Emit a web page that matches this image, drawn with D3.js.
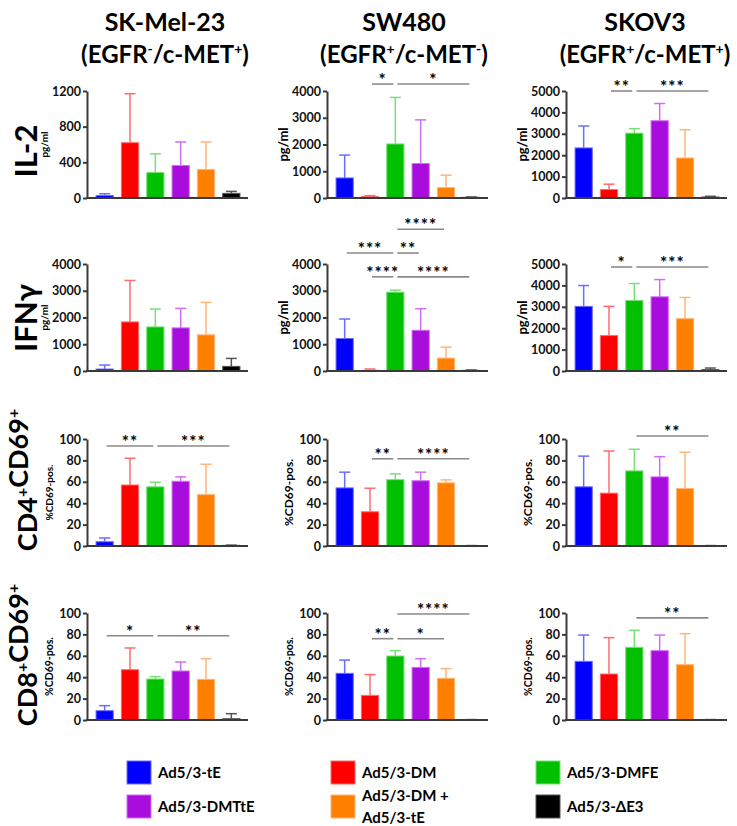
<!DOCTYPE html>
<html>
<head>
<meta charset="utf-8">
<script src="https://cdn.jsdelivr.net/npm/d3@7"></script>
<style>
  body { margin: 0; background: #fff; }
  text { font-family: Lato, "Open Sans", sans-serif; }
</style>
</head>
<body>
<svg id="chart" width="737" height="826"></svg>
<script>
const groups = ["Ad5/3-tE", "Ad5/3-DM", "Ad5/3-DMFE", "Ad5/3-DMTtE", "Ad5/3-DM +|Ad5/3-tE", "Ad5/3-ΔE3"];
const barColors = ["#0000ff", "#ff0000", "#00c000", "#a80ddd", "#ff8000", "#000000"];
const errColors = ["#6b6bff", "#ff6b6b", "#77e077", "#cf6ff0", "#ffb478", "#555555"];

const cellLines = ["SK-Mel-23", "SW480", "SKOV3"];
const cellReceptors = [["-", "+"], ["+", "-"], ["+", "+"]];
const markers = ["IL-2", "IFNγ", "CD4|CD69", "CD8|CD69"];
const yTitles = ["pg/ml", "pg/ml", "%CD69-pos.", "%CD69-pos."];

// y axis maxima and tick labels, row by row, column by column
const yMax = [[1200, 4000, 5000], [4000, 4000, 5000], [100, 100, 100], [100, 100, 100]];
const yTicks = [
  [[0, 400, 800, 1200], [0, 1000, 2000, 3000, 4000], [0, 1000, 2000, 3000, 4000, 5000]],
  [[0, 1000, 2000, 3000, 4000], [0, 1000, 2000, 3000, 4000], [0, 1000, 2000, 3000, 4000, 5000]],
  [[0, 20, 40, 60, 80, 100], [0, 20, 40, 60, 80, 100], [0, 20, 40, 60, 80, 100]],
  [[0, 20, 40, 60, 80, 100], [0, 20, 40, 60, 80, 100], [0, 20, 40, 60, 80, 100]]
];

// means and upper error (mean + SD)
const il2Mean = [[28, 620, 285, 365, 320, 52], [750, 50, 2020, 1290, 390, 25], [2340, 395, 3030, 3610, 1870, 47]];
const il2Err = [[48, 1170, 495, 628, 628, 74], [1605, 88, 3760, 2920, 853, 38], [3365, 645, 3240, 4415, 3190, 80]];
const ifnMean = [[74, 1835, 1648, 1612, 1352, 173], [1214, 25, 2947, 1523, 483, 25], [3020, 1656, 3297, 3467, 2446, 62]];
const ifnErr = [[223, 3385, 2316, 2341, 2565, 470], [1944, 74, 3022, 2328, 892, 37], [3994, 3020, 4087, 4272, 3437, 139]];
const cd4Mean = [[4, 57, 55.3, 60.5, 48, 0.6], [54.3, 32, 62, 61, 59, 0.3], [55.3, 49.4, 70.2, 64.6, 53.7, 0.3]];
const cd4Err = [[7.5, 82, 59.6, 64.6, 76.4, 0.8], [69, 54, 67.4, 69, 61.8, 0.4], [84, 88.8, 90.4, 83.5, 87.6, 0.4]];
const cd8Mean = [[8.7, 47, 38.3, 45.8, 38, 1.2], [43.6, 23, 59.8, 49.2, 39, 0.3], [54.8, 43, 67.9, 64.8, 51.7, 0.3]];
const cd8Err = [[13.4, 67.3, 40.5, 54.2, 57.3, 5.9], [56, 42.4, 64.8, 57.3, 48, 0.4], [79.4, 77, 83.8, 79.4, 80.7, 0.4]];

// significance brackets: [from bar, to bar, label, y value]
const il2Sig = [[], [[1, 2, "*", 4260], [2, 5, "*", 4260]], [[1, 2, "**", 5000], [2, 5, "***", 5000]]];
const ifnSig = [[], [[2, 4, "****", 5300], [0, 2, "***", 4410], [2, 3, "**", 4410], [1, 2, "****", 3520], [2, 5, "****", 3520]],
  [[1, 2, "*", 4860], [2, 5, "***", 4860]]];
const cd4Sig = [[[0, 2, "**", 93.5], [2, 5, "***", 93.5]], [[1, 2, "**", 81.5], [2, 5, "****", 81.5]], [[2, 5, "**", 102.8]]];
const cd8Sig = [[[0, 2, "*", 78.7], [2, 5, "**", 78.7]], [[2, 5, "****", 99], [1, 2, "**", 76], [2, 4, "*", 76]], [[2, 5, "**", 95.4]]];

const means = [il2Mean, ifnMean, cd4Mean, cd8Mean];
const errs = [il2Err, ifnErr, cd4Err, cd8Err];
const sigs = [il2Sig, ifnSig, cd4Sig, cd8Sig];

const axisX = [87, 327, 566];
const rowTop = [91, 264, 439, 613];
const plotH = 107, plotW = 161;
const colCenter = [165, 404, 645];
const rowLabelY = [151, 318, 480, 655];
const rowLabelSize = [31, 31, 27, 27];
const titleSize = [[10, 13, 13], [10, 13, 13], [10, 12, 12], [10.5, 10.5, 10.5]];

const svg = d3.select("#chart");

// column headers
cellLines.forEach((name, c) => {
  svg.append("text").attr("x", colCenter[c]).attr("y", 31)
    .attr("text-anchor", "middle").attr("font-size", 25).attr("font-weight", 700)
    .text(name);
  const t = svg.append("text").attr("x", colCenter[c]).attr("y", 63)
    .attr("text-anchor", "middle").attr("font-size", 24).attr("font-weight", 700);
  t.append("tspan").text("(EGFR");
  t.append("tspan").attr("font-size", 14).attr("dy", -9).text(cellReceptors[c][0]);
  t.append("tspan").attr("dy", 9).text("/c-MET");
  t.append("tspan").attr("font-size", 14).attr("dy", -9).text(cellReceptors[c][1]);
  t.append("tspan").attr("dy", 9).text(")");
});

// row labels
markers.forEach((m, r) => {
  const t = svg.append("text")
    .attr("transform", `translate(37, ${rowLabelY[r]}) rotate(-90)`)
    .attr("text-anchor", "middle").attr("font-size", rowLabelSize[r]).attr("font-weight", 700);
  const parts = m.split("|");
  if (parts.length === 1) {
    t.text(m);
  } else {
    parts.forEach((p) => {
      t.append("tspan").text(p);
      t.append("tspan").attr("font-size", 16).attr("dy", -9).text("+");
      t.append("tspan").attr("dy", 9).text("");
    });
  }
});

for (let r = 0; r < 4; r++) {
  for (let c = 0; c < 3; c++) {
    const x0 = axisX[c], y0 = rowTop[r];
    const x = d3.scaleBand().domain(d3.range(6))
      .range([x0 + 5, x0 + 157]).paddingInner(0.32).paddingOuter(0.16);
    const y = d3.scaleLinear().domain([0, yMax[r][c]]).range([y0 + plotH, y0]);
    const g = svg.append("g");
    const mean = means[r][c], err = errs[r][c];

    // error bars (drawn first, behind the bar)
    const eb = g.selectAll(".err").data(mean).join("g");
    eb.append("line")
      .attr("x1", (d, i) => x(i) + x.bandwidth() / 2).attr("x2", (d, i) => x(i) + x.bandwidth() / 2)
      .attr("y1", (d) => y(d)).attr("y2", (d, i) => y(err[i]))
      .attr("stroke", (d, i) => errColors[i]).attr("stroke-width", 1.5);
    eb.append("line")
      .attr("x1", (d, i) => x(i) + x.bandwidth() / 2 - 5.5).attr("x2", (d, i) => x(i) + x.bandwidth() / 2 + 5.5)
      .attr("y1", (d, i) => y(err[i])).attr("y2", (d, i) => y(err[i]))
      .attr("stroke", (d, i) => errColors[i]).attr("stroke-width", 1.5);

    g.selectAll(".bar").data(mean).join("rect")
      .attr("x", (d, i) => x(i)).attr("width", x.bandwidth())
      .attr("y", (d) => y(d)).attr("height", (d) => y(0) - y(d))
      .attr("fill", (d, i) => barColors[i])
      .attr("stroke", (d, i) => errColors[i]).attr("stroke-width", 1);

    // axes
    const ax = g.append("g").attr("transform", `translate(${x0},0)`)
      .call(d3.axisLeft(y).tickValues(yTicks[r][c]).tickFormat(d3.format("d"))
        .tickSize(4).tickPadding(2).tickSizeOuter(0));
    ax.select(".domain").attr("stroke", "#3a3a3a").attr("stroke-width", 2);
    ax.selectAll(".tick line").attr("stroke", "#3a3a3a").attr("stroke-width", 2);
    ax.selectAll(".tick text").attr("font-size", 12.5).attr("font-weight", 700)
      .attr("fill", "#111").attr("font-family", "Lato, sans-serif");
    g.append("line").attr("x1", x0 - 1).attr("x2", x0 + plotW)
      .attr("y1", y(0)).attr("y2", y(0))
      .attr("stroke", "#3a3a3a").attr("stroke-width", 2);

    g.append("text")
      .attr("transform", `translate(${x0 - (r < 2 ? 39 : 34)}, ${y0 + plotH / 2}) rotate(-90)`)
      .attr("text-anchor", "middle").attr("font-size", titleSize[r][c]).attr("font-weight", 700)
      .text(yTitles[r]);

    // significance
    sigs[r][c].forEach(([a, b, label, v]) => {
      const xa = x(a) + x.bandwidth() / 2 + 2, xb = x(b) + x.bandwidth() / 2 - 2;
      g.append("line").attr("x1", xa).attr("x2", xb).attr("y1", y(v)).attr("y2", y(v))
        .attr("stroke", "#8a8a8a").attr("stroke-width", 1.6);
      g.append("text").attr("x", (xa + xb) / 2).attr("y", y(v) + 2)
        .attr("text-anchor", "middle").attr("font-size", 17).attr("font-weight", 700)
        .attr("letter-spacing", 1).text(label);
    });
  }
}

// legend
const legX = [127, 331, 536], legY = [761, 795];
groups.forEach((name, i) => {
  const lx = legX[i % 3], ly = legY[Math.floor(i / 3)];
  svg.append("rect").attr("x", lx).attr("y", ly).attr("width", 24).attr("height", 23)
    .attr("fill", barColors[i]).attr("stroke", errColors[i]).attr("stroke-width", 1);
  const lines = name.split("|");
  lines.forEach((l, k) => {
    svg.append("text").attr("x", lx + 31)
      .attr("y", ly + 17 + (k - (lines.length - 1) / 2) * 22)
      .attr("font-size", 15).attr("font-weight", 700).text(l);
  });
});
</script>
</body>
</html>
